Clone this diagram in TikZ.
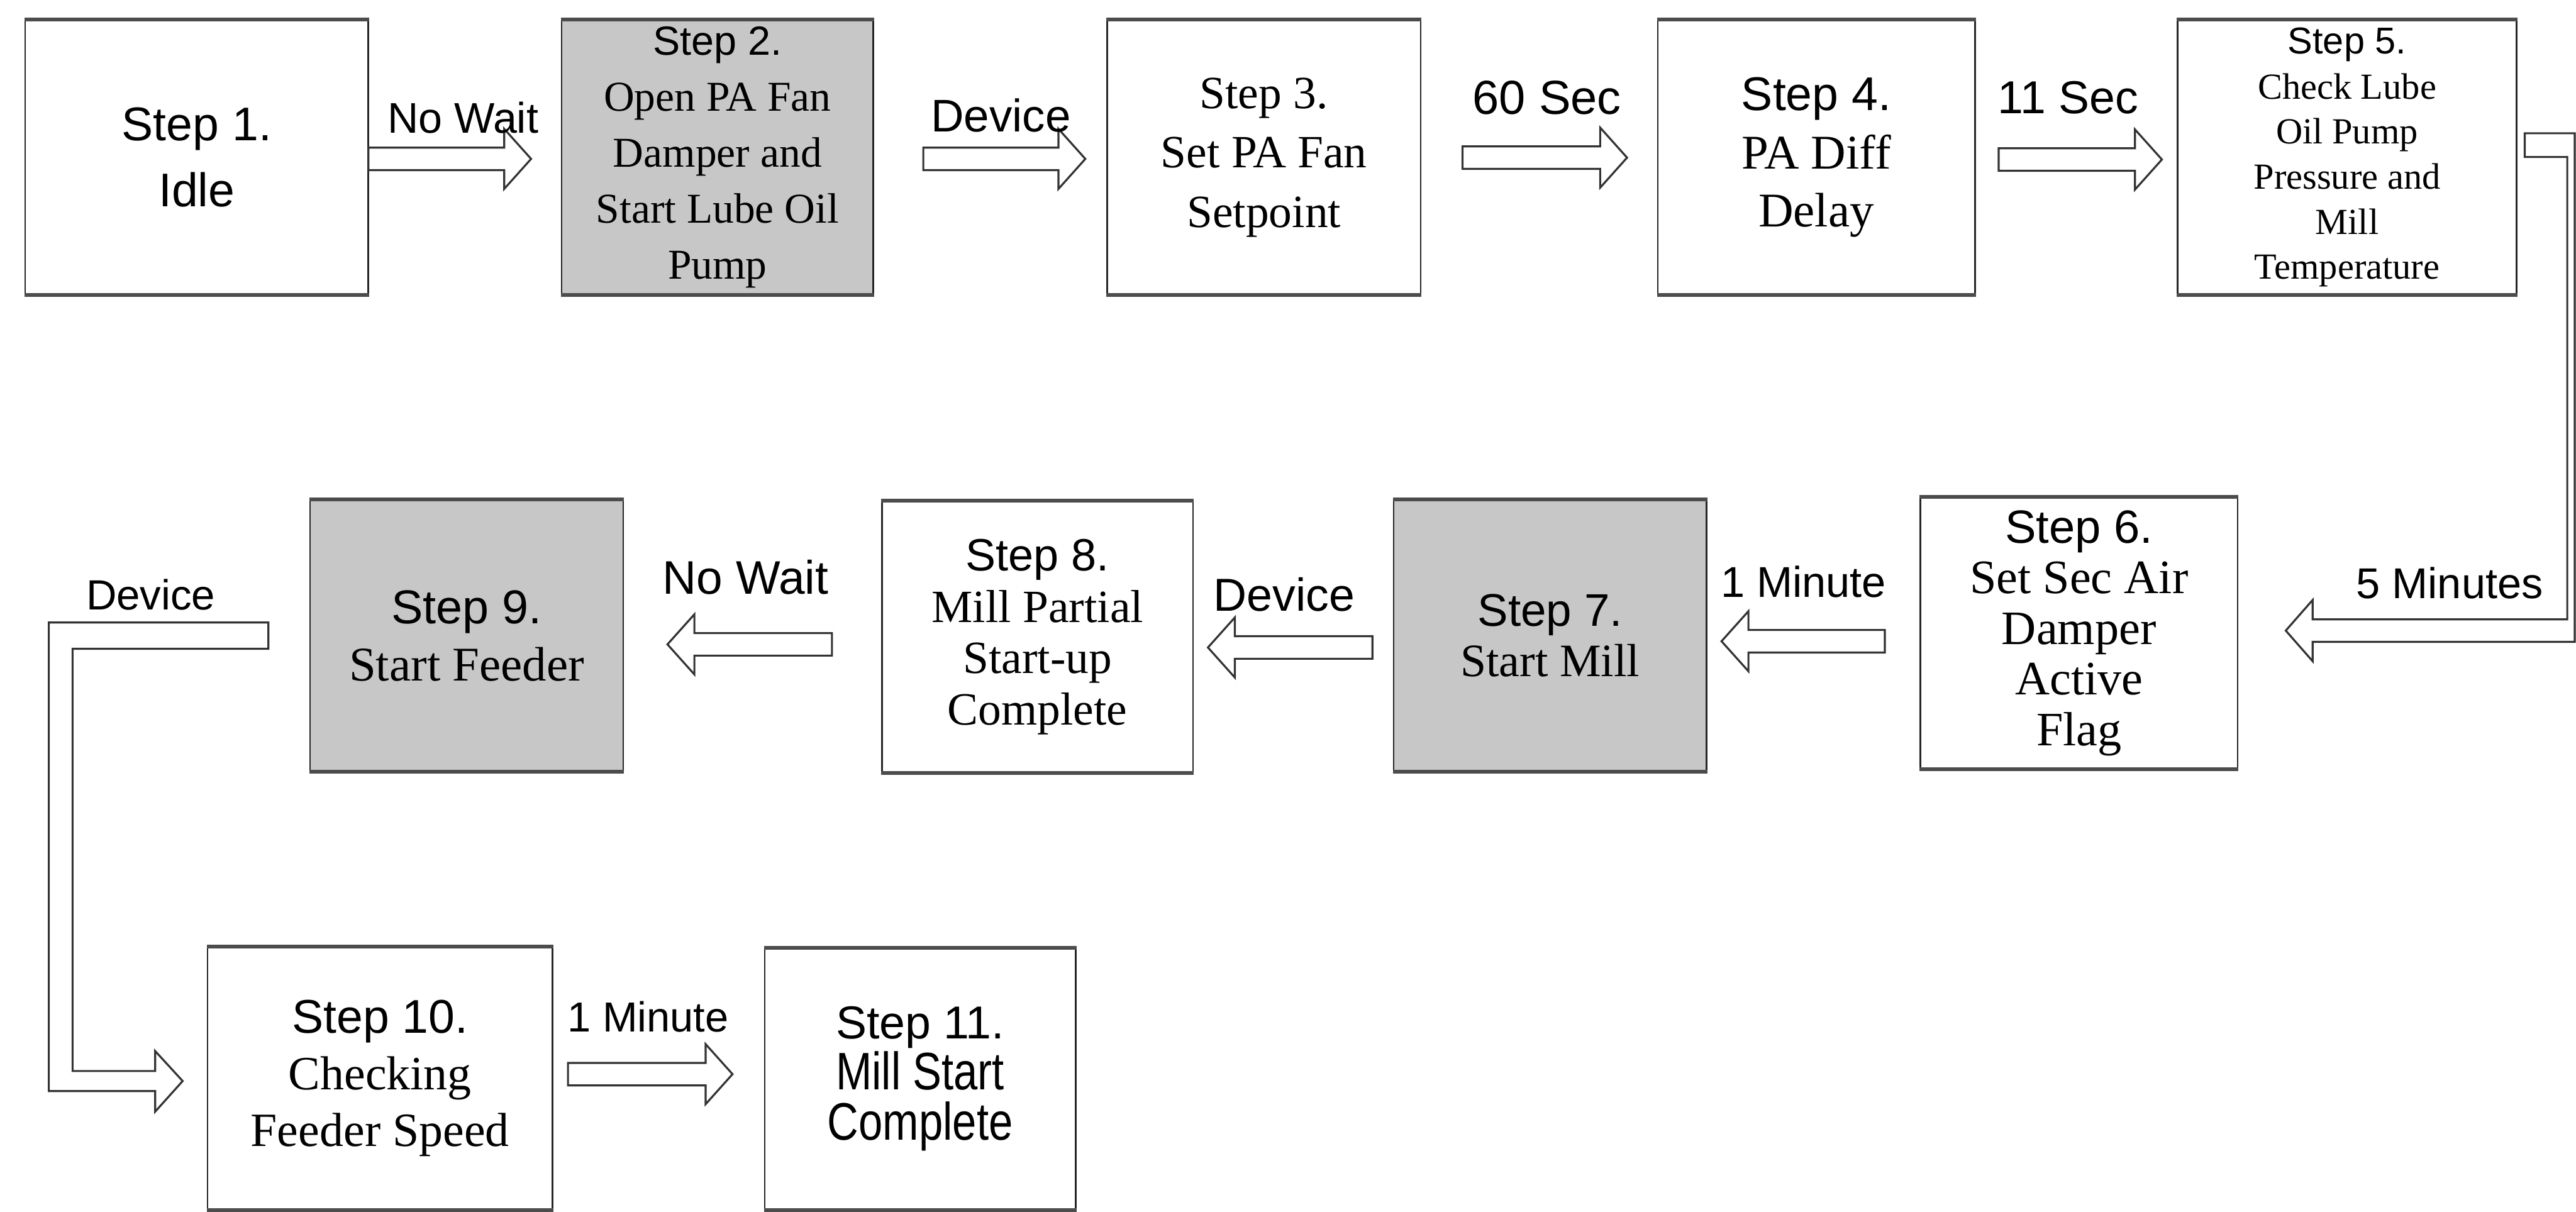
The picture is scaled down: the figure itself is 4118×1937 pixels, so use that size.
\documentclass[tikz,border=0pt]{standalone}
\usepackage{fontspec}
\setmainfont{Liberation Serif}
\newfontfamily\af{Liberation Sans}
\newfontfamily\afn[FakeStretch=0.82]{Liberation Sans}
\usetikzlibrary{calc}
\newcommand\fs[2]{\fontsize{#1}{#2}\selectfont}
\tikzset{
 box/.style={draw=black!85, line width=0.7pt, fill=white, inner sep=0pt, align=center},
 graybox/.style={box, fill=black!22},
 hedge/.style={draw=black!70, line width=1.7pt},
 lbl/.style={inner sep=0pt},
 arr/.style={draw=black!80, line width=0.9pt, fill=white, line join=miter},
}
\newcommand\blockarrow[2]{%
 \path[arr] let \p1=(#1), \p2=(#2), \n1={sign(\x2-\x1)} in
  (\x1,{\y1+0.18cm}) -- ({\x2-\n1*0.43cm},{\y1+0.18cm}) -- ({\x2-\n1*0.43cm},{\y1+0.48cm})
  -- (\x2,\y1) -- ({\x2-\n1*0.43cm},{\y1-0.48cm}) -- ({\x2-\n1*0.43cm},{\y1-0.18cm})
  -- (\x1,{\y1-0.18cm}) -- cycle;}
\begin{document}
\begin{tikzpicture}[x=0.01cm,y=-0.01cm]
\useasboundingbox (0,0) rectangle (4118,1937);
\fill[white] (0,0) rectangle (4118,1937);
\clip (0,0) rectangle (4118,1937);
% row 1
\node[box, minimum width=5.48cm, minimum height=4.37cm, font=\af\fs{21.5}{30}] (s1) at (314.5,251.5) {Step 1.\\Idle};
\node[graybox, minimum width=4.98cm, minimum height=4.37cm, font=\fs{19.3}{25.5}] (s2) at (1147,251.5)
  {{\af\fs{18.5}{25.5}Step 2.}\\Open PA Fan\\Damper and\\Start Lube Oil\\Pump};
\node[box, minimum width=5.01cm, minimum height=4.37cm, font=\fs{21}{27}] (s3) at (2020.5,251.5)
  {Step 3.\\Set PA Fan\\Setpoint};
\node[box, minimum width=5.07cm, minimum height=4.37cm, font=\fs{22}{26.5}] (s4) at (2903.5,251.5)
  {{\af\fs{21.5}{26.5}Step 4.}\\PA Diff\\Delay};
\node[box, minimum width=5.42cm, minimum height=4.37cm, font=\fs{16.7}{20.5}] (s5) at (3752,251.5)
  {{\af\fs{17}{20.5}Step 5.}\\Check Lube\\Oil Pump\\Pressure and\\Mill\\Temperature};
% row 2
\node[box, minimum width=5.07cm, minimum height=4.32cm, font=\fs{21.8}{23}] (s6) at (3323.5,1012)
  {{\af\fs{21.2}{23}Step 6.}\\Set Sec Air\\Damper\\Active\\Flag};
\node[graybox, minimum width=5.00cm, minimum height=4.32cm, font=\fs{21.1}{23}] (s7) at (2478,1016)
  {{\af\fs{20.8}{23}Step 7.}\\Start Mill};
\node[box, minimum width=4.97cm, minimum height=4.32cm, font=\fs{21}{23.3}] (s8) at (1658.5,1018)
  {{\af\fs{20.6}{23.3}Step 8.}\\Mill Partial\\Start-up\\Complete};
\node[graybox, minimum width=5.00cm, minimum height=4.32cm, font=\fs{22}{26}] (s9) at (746,1016)
  {{\af\fs{21.6}{26}Step 9.}\\Start Feeder};
% row 3
\node[box, minimum width=5.51cm, minimum height=4.19cm, font=\fs{21.7}{25.6}] (s10) at (607.5,1723.5)
  {{\af\fs{21.5}{25.6}Step 10.}\\Checking\\Feeder Speed};
\node[box, minimum width=4.97cm, minimum height=4.17cm, font=\afn\fs{24}{23}] (s11) at (1471,1724.5)
  {{\af\fs{21}{23}Step 11.}\\Mill Start\\Complete};
% heavier top and bottom edges, as in the scan
\foreach \n in {s1,s2,s3,s4,s5,s6,s7,s8,s9,s10,s11}{
  \draw[hedge] (\n.north west) -- (\n.north east);
  \draw[hedge] (\n.south west) -- (\n.south east);
}
% arrows row 1
\coordinate (a1s) at (589,254); \coordinate (a1e) at (849,254);
\blockarrow{a1s}{a1e}
\coordinate (a2s) at (1476,254); \coordinate (a2e) at (1735,254);
\blockarrow{a2s}{a2e}
\coordinate (a3s) at (2338,252); \coordinate (a3e) at (2601,252);
\blockarrow{a3s}{a3e}
\coordinate (a4s) at (3195,255); \coordinate (a4e) at (3456,255);
\blockarrow{a4s}{a4e}
% connector step 5 -> step 6
\coordinate (c5s) at (4036,232);
\coordinate (c5e) at (3654,1008);
\path[arr] ($(c5s)+(0,-19)$) -- (4116,213) -- (4116,1026) -- (3697,1026) -- (3697,1057)
  -- (c5e) -- (3697,959) -- (3697,990) -- (4104,990) -- (4104,251) -- ($(c5s)+(0,19)$) -- cycle;
% arrows row 2
\coordinate (a6s) at (3013,1025); \coordinate (a6e) at (2752,1025);
\blockarrow{a6s}{a6e}
\coordinate (a7s) at (2194,1035); \coordinate (a7e) at (1931,1035);
\blockarrow{a7s}{a7e}
\coordinate (a8s) at (1330,1030); \coordinate (a8e) at (1067,1030);
\blockarrow{a8s}{a8e}
% connector step 9 -> step 10
\coordinate (c9s) at (429,1016);
\coordinate (c9e) at (292,1728);
\path[arr] ($(c9s)+(0,-21)$) -- (78,995) -- (78,1744) -- (248,1744) -- (248,1777)
  -- (c9e) -- (248,1680) -- (248,1712) -- (116,1712) -- (116,1037) -- ($(c9s)+(0,21)$) -- cycle;
% arrow row 3
\coordinate (a10s) at (908,1717); \coordinate (a10e) at (1171,1717);
\blockarrow{a10s}{a10e}
% labels
\node[lbl, font=\af\fs{19.5}{22}] (l1) at (740,188) {No Wait};
\node[lbl, font=\af\fs{20.8}{22}] (l2) at (1600,184) {Device};
\node[lbl, font=\af\fs{21.7}{22}] (l3) at (2473,156) {60 Sec};
\node[lbl, font=\af\fs{21}{22}] (l4) at (3306,156) {11 Sec};
\node[lbl, font=\af\fs{19.6}{22}] (l5) at (3916,932) {5 Minutes};
\node[lbl, font=\af\fs{19.6}{22}] (l6) at (2883,930) {1 Minute};
\node[lbl, font=\af\fs{21}{22}] (l7) at (2053,950) {Device};
\node[lbl, font=\af\fs{21.4}{22}] (l8) at (1192,923) {No Wait};
\node[lbl, font=\af\fs{19.2}{22}] (l9) at (241,951) {Device};
\node[lbl, font=\af\fs{19.1}{22}] (l10) at (1036,1625) {1 Minute};
\end{tikzpicture}
\end{document}
